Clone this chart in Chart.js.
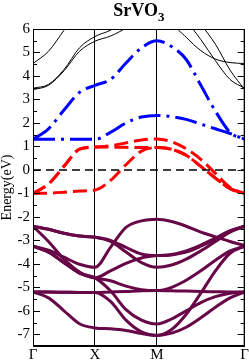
<!DOCTYPE html>
<html>
<head>
<meta charset="utf-8">
<script src="https://cdn.jsdelivr.net/npm/chart.js@4"></script>
<style>
 html, body { margin: 0; padding: 0; background: #fff; }
 canvas { display: block; }
</style>
</head>
<body>
<canvas id="bandChart" width="249" height="360"></canvas>
<script>
// k-path positions: G(0) - X(1) - M(2) - G(2+sqrt2)
var kPath = [0, 0.25, 0.5, 0.75, 1, 1.25, 1.5, 1.75, 2, 2.2357, 2.4714, 2.7071, 2.9428, 3.1785, 3.4142];
var kTicks = [0, 1, 2, 3.4142];
var kLabels = ["Γ", "X", "M", "Γ"];
var energyTicks = [-7, -6, -5, -4, -3, -2, -1, 0, 1, 2, 3, 4, 5, 6];

// upper bands (black, thin)
var black1 = [4.53, 5.05, 5.95, 6.9, 7.4, 7.8, 8, 8, 8, 6.35, 5.65, 5.08, 4.72, 4.57, 4.53];
var black2 = [3.48, 3.64, 4.27, 5.2, 5.68, 5.95, 6.4, 7, 7.5, 7.5, 6.4, 5.55, 4.65, 3.85, 3.48];
var black3 = [3.42, 3.6, 4.22, 5.05, 5.48, 5.7, 6.05, 6.6, 7.1, 7.8, 7, 6.2, 5.35, 4.25, 3.42];

// V eg bands (blue)
var egUpper = [1.3, 1.75, 2.55, 3.3, 3.6, 3.85, 4.55, 5.2, 5.5, 5.25, 4.7, 3.6, 2.5, 1.6, 1.3];
var egLower = [1.3, 1.3, 1.3, 1.3, 1.3, 1.6, 2.0, 2.25, 2.32, 2.27, 2.15, 1.95, 1.75, 1.55, 1.3];

// V t2g bands (red)
var t2g1 = [-1.0, -0.6, 0.15, 0.88, 0.97, 1.03, 1.15, 1.27, 1.32, 1.2, 0.9, 0.45, -0.15, -0.75, -1.0];
var t2g2 = [-1.0, -0.6, 0.15, 0.88, 0.97, 0.97, 0.96, 0.95, 0.95, 0.88, 0.62, 0.15, -0.35, -0.8, -1.0];
var t2g3 = [-1.0, -0.99, -0.95, -0.9, -0.86, -0.45, 0.22, 0.8, 0.95, 0.88, 0.62, 0.15, -0.35, -0.8, -1.0];

// O 2p bands (maroon)
var o2pA1 = [-2.4, -2.53, -2.7, -2.82, -2.87, -3.0, -3.3, -3.58, -3.65, -3.62, -3.5, -3.25, -2.95, -2.6, -2.4];
var o2pA2 = [-2.4, -2.53, -2.7, -2.82, -2.87, -3.05, -3.5, -3.95, -4.15, -4.05, -3.8, -3.45, -3.05, -2.65, -2.4];
var o2pB = [-2.4, -3.05, -3.8, -4.35, -4.6, -4.3, -3.98, -3.75, -3.65, -3.6, -3.45, -3.2, -2.9, -2.6, -2.4];
var o2pC = [-3.25, -3.42, -3.72, -4.02, -4.15, -3.3, -2.45, -2.17, -2.1, -2.2, -2.4, -2.65, -2.85, -3.05, -3.22];
var o2pD1 = [-3.25, -3.5, -3.95, -4.4, -4.6, -4.72, -4.95, -5.1, -5.14, -5.0, -4.7, -4.3, -3.85, -3.45, -3.25];
var o2pD2 = [-3.25, -3.5, -3.95, -4.4, -4.6, -5.15, -5.95, -6.4, -6.56, -6.35, -6.0, -5.65, -5.4, -5.25, -5.2];
var o2pE1 = [-5.2, -5.2, -5.21, -5.22, -5.22, -5.2, -5.18, -5.15, -5.14, -5.15, -5.16, -5.18, -5.19, -5.2, -5.2];
var o2pE2 = [-5.2, -5.2, -5.21, -5.22, -5.22, -5.6, -6.4, -6.9, -7.05, -6.8, -6.15, -5.25, -4.3, -3.55, -3.25];
var o2pF = [-5.2, -5.45, -6.0, -6.55, -6.73, -6.77, -6.84, -6.97, -7.05, -6.95, -6.7, -6.3, -5.85, -5.45, -5.2];

var fermiLevel = 0;

var serif = "'Liberation Serif', 'Times New Roman', serif";
var maroon = "#670748";

function band(values, color, width, dash) {
 return {
  data: values.map(function (e, i) {
   return { x: kPath[i], y: e };
  }),
  borderColor: color,
  borderWidth: width,
  borderDash: dash || [],
  fill: false,
  pointRadius: 0,
  cubicInterpolationMode: "monotone",
 };
}

var datasets = [];
// first dataset ends up on top
datasets.push({
 data: [{ x: kTicks[0], y: fermiLevel }, { x: kTicks[3], y: fermiLevel }],
 borderColor: "#000",
 borderWidth: 1.5,
 borderDash: [8, 5],
 pointRadius: 0,
 fill: false,
});
[t2g1, t2g2, t2g3].forEach(function (b) {
 datasets.push(band(b, "#ff0000", 3, [14, 6]));
});
[egUpper, egLower].forEach(function (b) {
 datasets.push(band(b, "#0000ff", 3, [22, 6, 3, 6]));
});
[o2pA1, o2pA2, o2pB, o2pC, o2pD1, o2pD2, o2pE1, o2pE2, o2pF].forEach(function (b) {
 datasets.push(band(b, maroon, 3));
});
[black1, black2, black3].forEach(function (b) {
 datasets.push(band(b, "#000", 1));
});

// frame, inward tick marks and the title
var framePlugin = {
 id: "frame",
 afterDraw: function (chart) {
  var ctx = chart.ctx;
  var a = chart.chartArea;
  var y = chart.scales.y;
  ctx.save();
  ctx.strokeStyle = "#000";
  ctx.lineWidth = 1;
  ctx.strokeRect(a.left + 0.5, a.top + 0.5, a.right - a.left - 1, a.bottom - a.top - 1);
  for (var v = -7.5; v <= 6; v += 0.5) {
   var py = Math.round(y.getPixelForValue(v)) + 0.5;
   var len = v % 1 === 0 ? 7 : 4;
   ctx.beginPath();
   ctx.moveTo(a.left, py);
   ctx.lineTo(a.left + len, py);
   ctx.moveTo(a.right, py);
   ctx.lineTo(a.right - len, py);
   ctx.stroke();
  }
  // title with subscript
  var cx = (a.left + a.right) / 2;
  ctx.fillStyle = "#000";
  ctx.textBaseline = "alphabetic";
  ctx.font = "bold 18px " + serif;
  var w1 = ctx.measureText("SrVO").width;
  ctx.font = "bold 13px " + serif;
  var w2 = ctx.measureText("3").width;
  var x0 = cx - (w1 + w2) / 2;
  ctx.font = "bold 18px " + serif;
  ctx.fillText("SrVO", x0, 16);
  ctx.font = "bold 13px " + serif;
  ctx.fillText("3", x0 + w1, 21);
  ctx.restore();
 },
};

new Chart(document.getElementById("bandChart"), {
 type: "line",
 data: { datasets: datasets },
 plugins: [framePlugin],
 options: {
  responsive: false,
  animation: false,
  layout: { padding: { top: 29, right: 3, left: 0, bottom: 0 } },
  plugins: {
   legend: { display: false },
   title: { display: false },
   tooltip: { enabled: false },
  },
  scales: {
   x: {
    type: "linear",
    min: kTicks[0],
    max: kTicks[3],
    afterBuildTicks: function (scale) {
     scale.ticks = kTicks.map(function (v) {
      return { value: v };
     });
    },
    afterFit: function (scale) {
     scale.height = 14;
    },
    ticks: {
     color: "#000",
     font: { family: serif, size: 15 },
     padding: 0,
     autoSkip: false,
     maxRotation: 0,
     callback: function (v, i) {
      return kLabels[i];
     },
    },
    grid: { color: "#000", lineWidth: 1, drawTicks: false },
    border: { display: true, color: "#000" },
   },
   y: {
    min: -7.5,
    max: 6,
    afterBuildTicks: function (scale) {
     scale.ticks = energyTicks.map(function (v) {
      return { value: v };
     });
    },
    afterFit: function (scale) {
     scale.width = 33;
    },
    ticks: {
     color: "#000",
     font: { family: serif, size: 15 },
     padding: 3,
     callback: function (v) {
      return String(v);
     },
    },
    grid: { display: false, drawTicks: false },
    border: { display: true, color: "#000" },
    title: {
     display: true,
     text: "Energy(eV)",
     color: "#000",
     font: { family: serif, size: 14, lineHeight: 1 },
     padding: { top: 0, bottom: 0 },
    },
   },
  },
 },
});
</script>
</body>
</html>
